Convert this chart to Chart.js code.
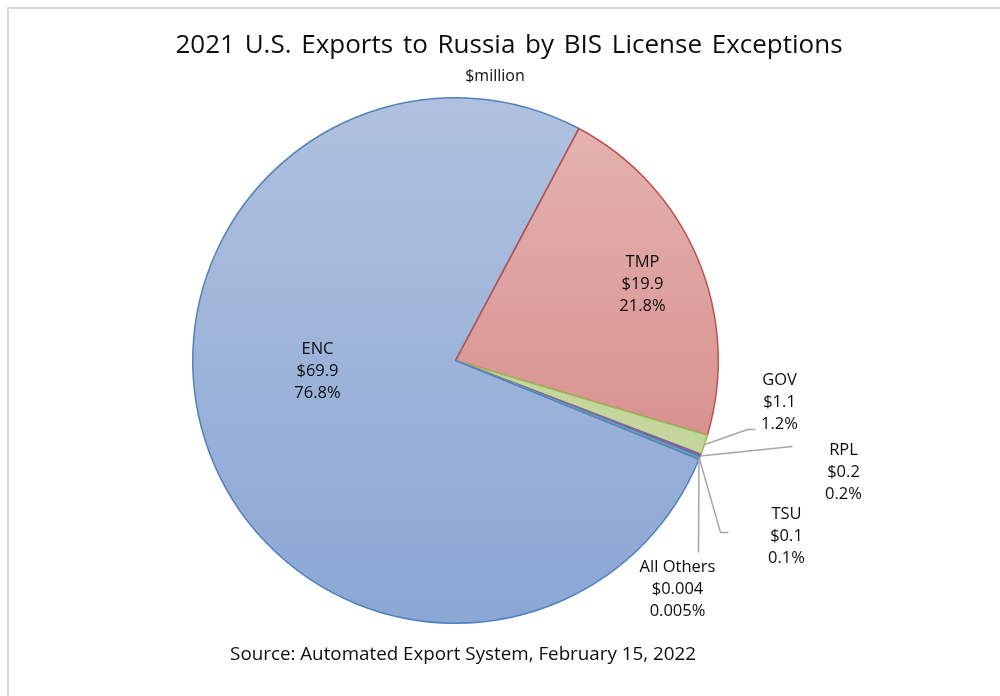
<!DOCTYPE html>
<html>
<head>
<meta charset="utf-8">
<script src="https://cdn.jsdelivr.net/npm/chart.js@4/dist/chart.umd.min.js"></script>
<style>
  html, body { margin: 0; padding: 0; background: #fff; }
  #wrap { position: relative; width: 1000px; height: 696px; overflow: hidden; }
  #frame { position: absolute; left: 7px; top: 7px; width: 1010px; height: 710px;
           border-left: 2px solid #d9d9d9; border-top: 2px solid #d9d9d9; }
  .txt { position: absolute; left: 0; width: 1000px; text-align: center; color: #0d0d0d;
         font-family: "Open Sans", "Noto Sans", sans-serif; white-space: nowrap; }
  #title { top: 25px; left: 9px; font-size: 26px; word-spacing: 3px; }
  #sub { top: 64px; left: -5px; font-size: 16px; }
  #src { top: 640px; left: -37px; font-size: 18.8px; }
  canvas { position: absolute; left: 0; top: 0; }
</style>
</head>
<body>
<div id="wrap">
  <div id="frame"></div>
  <canvas id="pieChart" width="1000" height="696"></canvas>
  <div class="txt" id="title">2021 U.S. Exports to Russia by BIS License Exceptions</div>
  <div class="txt" id="sub">$million</div>
  <div class="txt" id="src">Source: Automated Export System, February 15, 2022</div>
</div>
<script>
// Data ($ million)
const categories = ["TMP", "GOV", "RPL", "TSU", "All Others", "ENC"];
const values = [19.9, 1.1, 0.2, 0.1, 0.004, 69.9];
const valueLabels = ["$19.9", "$1.1", "$0.2", "$0.1", "$0.004", "$69.9"];
const pctLabels = ["21.8%", "1.2%", "0.2%", "0.1%", "0.005%", "76.8%"];

// Styling
const borderColors = ["#c0504d", "#9bbb59", "#8064a2", "#4bacc6", "#f79646", "#4f81bd"];
const flatColors = [null, "#c3d69b", "#8064a2", "#4bacc6", "#f79646", null];
// label centre offsets from pie centre, plus optional leader line bends
const labelSpots = [
    { dx: 187, dy: -76 },
    { dx: 324, dy: 42, line: [[292, 69], [300, 69]] },
    { dx: 388, dy: 112, line: [[337, 86]] },
    { dx: 331, dy: 176, line: [[265, 172], [273, 172]] },
    { dx: 222, dy: 229, line: [[243, 192]] },
    { dx: -138, dy: 11 }
];

function sliceFill(context) {
    const i = context.dataIndex;
    if (flatColors[i]) return flatColors[i];
    const area = context.chart.chartArea;
    if (!area) return borderColors[i];
    const g = context.chart.ctx.createLinearGradient(0, area.top, 0, area.bottom);
    if (i === 0) {
        g.addColorStop(0, "#e5b5b3");
        g.addColorStop(1, "#d07f7d");
    } else {
        g.addColorStop(0, "#b0c1de");
        g.addColorStop(1, "#8aa7d5");
    }
    return g;
}

// Draws the data labels and leader lines
const labelPlugin = {
    id: "sliceLabels",
    afterDatasetsDraw(chart) {
        const ctx = chart.ctx;
        const arcs = chart.getDatasetMeta(0).data;
        ctx.save();
        // redraw TMP's straight edge in red, as in the original
        const tmp = arcs[0];
        ctx.beginPath();
        ctx.moveTo(tmp.x, tmp.y);
        ctx.lineTo(tmp.x + Math.cos(tmp.startAngle) * tmp.outerRadius, tmp.y + Math.sin(tmp.startAngle) * tmp.outerRadius);
        ctx.strokeStyle = borderColors[0];
        ctx.lineWidth = 1.5;
        ctx.stroke();

        ctx.font = "16.5px 'Open Sans', 'Noto Sans', sans-serif";
        ctx.fillStyle = "#0d0d0d";
        ctx.textAlign = "center";
        ctx.textBaseline = "middle";
        arcs.forEach((arc, i) => {
            const cx = arc.x, cy = arc.y;
            const spot = labelSpots[i];
            const lx = cx + spot.dx, ly = cy + spot.dy;
            if (spot.line) {
                const mid = (arc.startAngle + arc.endAngle) / 2;
                ctx.beginPath();
                ctx.moveTo(cx + Math.cos(mid) * arc.outerRadius, cy + Math.sin(mid) * arc.outerRadius);
                spot.line.forEach(p => ctx.lineTo(cx + p[0], cy + p[1]));
                ctx.strokeStyle = "#a6a6a6";
                ctx.lineWidth = 1.5;
                ctx.stroke();
            }
            ctx.fillText(categories[i], lx, ly - 22);
            ctx.fillText(valueLabels[i], lx, ly);
            ctx.fillText(pctLabels[i], lx, ly + 22);
        });
        ctx.restore();
    }
};

new Chart(document.getElementById("pieChart").getContext("2d"), {
    type: "pie",
    data: {
        labels: categories,
        datasets: [{
            data: values,
            backgroundColor: sliceFill,
            borderColor: borderColors,
            borderWidth: 1.5
        }]
    },
    options: {
        responsive: false,
        animation: false,
        rotation: 28,
        layout: { padding: { left: 192, right: 281, top: 97, bottom: 72 } },
        plugins: {
            legend: { display: false },
            tooltip: { enabled: false }
        }
    },
    plugins: [labelPlugin]
});
</script>
</body>
</html>
